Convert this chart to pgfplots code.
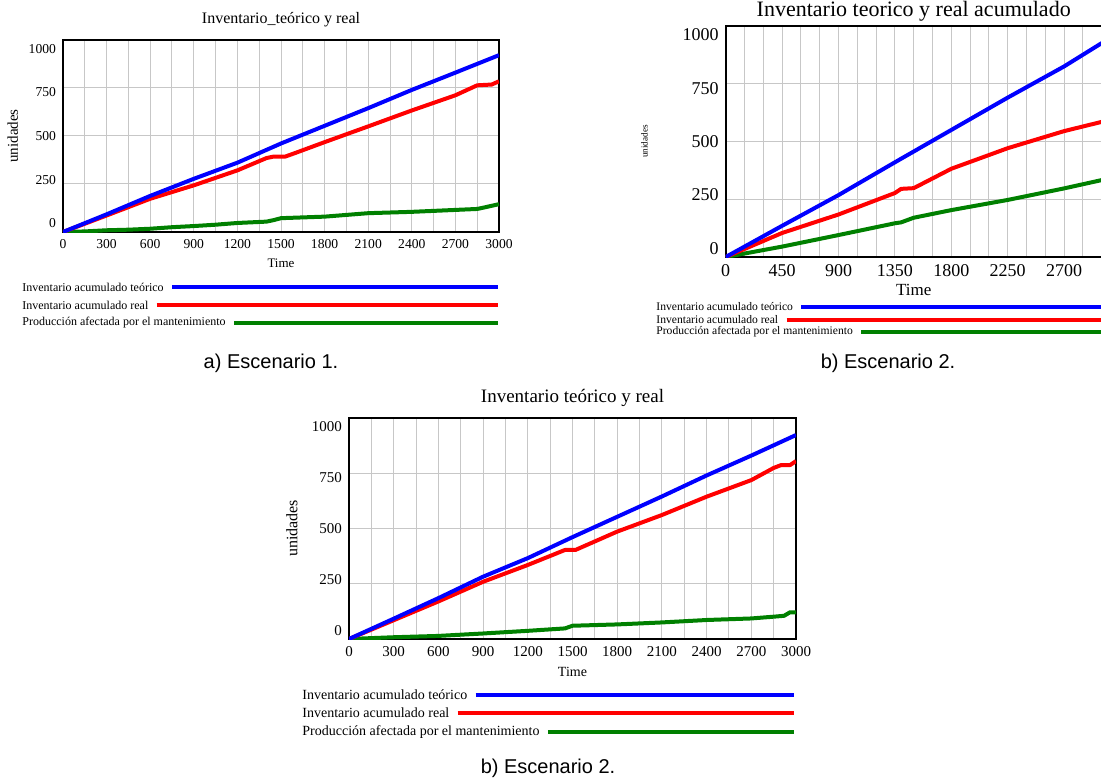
\documentclass[border=0pt]{standalone}
\usepackage{fontspec}
\setmainfont{Liberation Serif}
\newfontfamily\arialf{Liberation Sans}
\usepackage{pgfplots}
\pgfplotsset{compat=1.18}
\definecolor{vblue}{RGB}{0,0,255}
\definecolor{vred}{RGB}{255,0,0}
\definecolor{vgreen}{RGB}{0,128,0}
\tikzset{
 bl/.style={color=vblue, line width=2pt, line join=round},
 rl/.style={color=vred, line width=2pt, line join=round},
 gl/.style={color=vgreen, line width=2pt, line join=round},
}
\pgfplotsset{
 vensim/.style={
  scale only axis, anchor=south west,
  xmin=0, xmax=3000, ymin=0, ymax=1000,
  ytick={0,250,500,750,1000},
  minor xtick={0,150,...,3000},
  xmajorgrids, xminorgrids, ymajorgrids,
  major grid style={line width=0.5pt, color=black!22},
  minor grid style={line width=0.5pt, color=black!22},
  major tick length=0pt, minor tick length=0pt,
  axis line style={line width=1pt},
  /pgf/number format/1000 sep={},
  /pgf/number format/assume math mode=true,
  yticklabel={\pgfmathsetmacro\rs{(2-\ticknum)*2.2}\raisebox{\rs pt}[\height][\depth]{\pgfmathprintnumber{\tick}}},
  xticklabel={\pgfmathprintnumber{\tick}},
  title style={at={(axis description cs:0.5,1)}, anchor=center},
  xlabel style={at={(axis description cs:0.5,0)}, anchor=center},
  ylabel style={anchor=center, rotate=0},
 },
}
\begin{document}
\begin{tikzpicture}
\useasboundingbox (0,0) rectangle (550.5pt,391.5pt);

% ---------- Panel a ----------
\begin{axis}[vensim,
  at={(31.5pt,275.5pt)}, width=218pt, height=96pt,
  xtick={0,300,...,3000},
  ticklabel style={font=\fontsize{6.8}{7}\selectfont},
  title={Inventario\_teórico y real},
  title style={font=\fontsize{8}{9}\selectfont, yshift=4pt},
  xlabel={Time},
  xlabel style={font=\fontsize{6.5}{7}\selectfont, yshift=-15.5pt},
  ylabel={unidades},
  ylabel style={font=\fontsize{7.5}{8}\selectfont, at={(axis description cs:-0.115,0.5)}},
]
\addplot[gl] coordinates {(0,0) (150,3) (300,9) (450,12) (600,17) (750,25) (900,31) (1050,38) (1200,47) (1400,54) (1450,62) (1500,72) (1800,80) (2100,98) (2400,105) (2700,115) (2850,120) (2900,128) (3000,145)};
\addplot[rl] coordinates {(0,0) (300,86) (600,173) (900,243) (1200,321) (1400,385) (1450,393) (1530,393) (1600,412) (1800,468) (2100,550) (2400,633) (2700,712) (2850,764) (2950,768) (3000,785)};
\addplot[bl] coordinates {(0,0) (300,92) (600,188) (900,277) (1200,361) (1500,461) (1800,553) (2100,645) (2400,740) (2700,830) (3000,921)};
\end{axis}
\begin{scope}[font=\fontsize{6}{7}\selectfont]
\node[anchor=west, inner sep=0pt] (a1) at (11pt,248pt) {Inventario acumulado teórico};
\draw[bl] ([xshift=4pt]a1.east) -- (249pt,248pt);
\node[anchor=west, inner sep=0pt] (a2) at (11pt,239pt) {Inventario acumulado real};
\draw[rl] ([xshift=4pt]a2.east) -- (249pt,239pt);
\node[anchor=west, inner sep=0pt] (a3) at (11pt,230pt) {Producción afectada por el mantenimiento};
\draw[gl] ([xshift=4pt]a3.east) -- (249pt,230pt);
\end{scope}
\node[font=\arialf\fontsize{10}{12}\selectfont] at (135.5pt,210pt) {a) Escenario 1.};

% ---------- Panel b ----------
\begin{axis}[vensim,
  at={(362.85pt,263pt)}, width=188pt, height=115.5pt,
  xtick={0,450,...,2700},
  ticklabel style={font=\fontsize{9}{10}\selectfont},
  title={Inventario teorico y real acumulado},
  title style={font=\fontsize{11}{12}\selectfont, yshift=1.5pt},
  xlabel={Time},
  xlabel style={font=\fontsize{8.5}{9}\selectfont, yshift=-16.5pt},
  ylabel={unidades},
  ylabel style={font=\fontsize{4.6}{5}\selectfont, at={(axis description cs:-0.216,0.5)}},
]
\addplot[gl] coordinates {(0,0) (450,45) (900,95) (1350,146) (1400,150) (1500,170) (1800,203) (2250,247) (2700,297) (3000,333)};
\addplot[rl] coordinates {(0,0) (450,104) (900,184) (1350,277) (1400,295) (1500,298) (1800,382) (2250,471) (2700,545) (3000,585)};
\addplot[bl] coordinates {(0,0) (450,135) (900,268) (1350,410) (1800,550) (2250,690) (2700,825) (3000,926)};
\end{axis}
\begin{scope}[font=\fontsize{5.8}{6}\selectfont]
\node[anchor=west, inner sep=0pt] (b1) at (328pt,238pt) {Inventario acumulado teórico};
\draw[bl] ([xshift=4pt]b1.east) -- (551pt,238pt);
\node[anchor=west, inner sep=0pt] (b2) at (328pt,231.5pt) {Inventario acumulado real};
\draw[rl] ([xshift=4pt]b2.east) -- (551pt,231.5pt);
\node[anchor=west, inner sep=0pt] (b3) at (328pt,225.5pt) {Producción afectada por el mantenimiento};
\draw[gl] ([xshift=4pt]b3.east) -- (551pt,225.5pt);
\end{scope}
\node[font=\arialf\fontsize{10}{12}\selectfont] at (444pt,210pt) {b) Escenario 2.};

% ---------- Panel c ----------
\begin{axis}[vensim,
  at={(174.5pt,72pt)}, width=223.5pt, height=110.5pt,
  xtick={0,300,...,3000},
  ticklabel style={font=\fontsize{7.5}{8}\selectfont},
  title={Inventario teórico y real},
  title style={font=\fontsize{9.5}{10}\selectfont, yshift=4pt},
  xlabel={Time},
  xlabel style={font=\fontsize{7}{8}\selectfont, yshift=-16.5pt},
  ylabel={unidades},
  ylabel style={font=\fontsize{8}{9}\selectfont, at={(axis description cs:-0.128,0.5)}},
]
\addplot[gl] coordinates {(0,0) (300,8) (600,14) (900,25) (1200,37) (1450,48) (1500,60) (1800,66) (2100,75) (2400,86) (2700,93) (2850,101) (2920,105) (2960,121) (3000,121)};
\addplot[rl] coordinates {(0,0) (300,85) (600,170) (900,259) (1200,335) (1450,403) (1520,403) (1800,486) (2100,561) (2400,644) (2700,719) (2850,774) (2900,787) (2960,787) (3000,805)};
\addplot[bl] coordinates {(0,0) (300,92) (600,185) (900,282) (1200,366) (1500,461) (1800,553) (2100,645) (2400,740) (2700,830) (3000,923)};
\end{axis}
\begin{scope}[font=\fontsize{7}{8}\selectfont]
\node[anchor=west, inner sep=0pt] (c1) at (151pt,44pt) {Inventario acumulado teórico};
\draw[bl] ([xshift=4pt]c1.east) -- (397pt,44pt);
\node[anchor=west, inner sep=0pt] (c2) at (151pt,35pt) {Inventario acumulado real};
\draw[rl] ([xshift=4pt]c2.east) -- (397pt,35pt);
\node[anchor=west, inner sep=0pt] (c3) at (151pt,25.5pt) {Producción afectada por el mantenimiento};
\draw[gl] ([xshift=4pt]c3.east) -- (397pt,25.5pt);
\end{scope}
\node[font=\arialf\fontsize{10}{12}\selectfont] at (274pt,7.5pt) {b) Escenario 2.};
\end{tikzpicture}
\end{document}
